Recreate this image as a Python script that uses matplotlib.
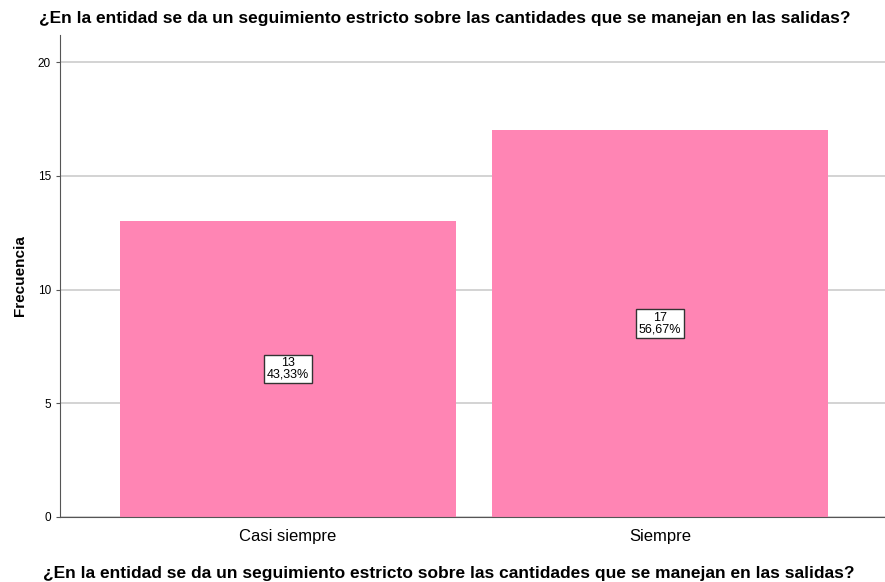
import matplotlib.pyplot as plt

categories = ['Casi siempre', 'Siempre']
counts = [13, 17]
percents = ['43,33%', '56,67%']
yticks = [0, 5, 10, 15, 20]

question = '¿En la entidad se da un seguimiento estricto sobre las cantidades que se manejan en las salidas?'

plt.rcParams['font.family'] = ['Liberation Sans', 'DejaVu Sans']

fig = plt.figure(figsize=(8.85, 5.82), dpi=100)
ax = fig.add_axes([0.0678, 0.1117, 0.9322, 0.8283])

positions = list(range(len(categories)))
ax.bar(positions, counts, width=0.903, color='#FF85B4', zorder=2)

for pos, count, pct in zip(positions, counts, percents):
    ax.text(pos, count / 2, f'{count}\n{pct}', ha='center', va='center',
            fontsize=9, linespacing=0.95, zorder=3,
            bbox=dict(boxstyle='square,pad=0.2', facecolor='white',
                      edgecolor='#333333', linewidth=1))

ax.set_xlim(-0.613, 1.605)
ax.set_ylim(0, 21.2)
ax.set_yticks(yticks)
ax.set_xticks(positions)
ax.set_xticklabels(categories, fontsize=12)
ax.tick_params(axis='y', labelsize=8.5, length=3, color='#555555')
ax.tick_params(axis='x', length=0, pad=9)
ax.yaxis.grid(True, color='#cccccc', linewidth=1.2, zorder=0)
ax.set_axisbelow(True)

for side in ['top', 'right']:
    ax.spines[side].set_visible(False)
for side in ['left', 'bottom']:
    ax.spines[side].set_color('#555555')

ax.set_ylabel('Frecuencia', fontsize=11, fontweight='bold', labelpad=8)
fig.text(0.507, 0.015, question, ha='center', va='center', fontsize=12.5, fontweight='bold')
fig.text(0.503, 0.969, question, ha='center', va='center', fontsize=12.5, fontweight='bold')

fig.savefig('out.png', dpi=100)
